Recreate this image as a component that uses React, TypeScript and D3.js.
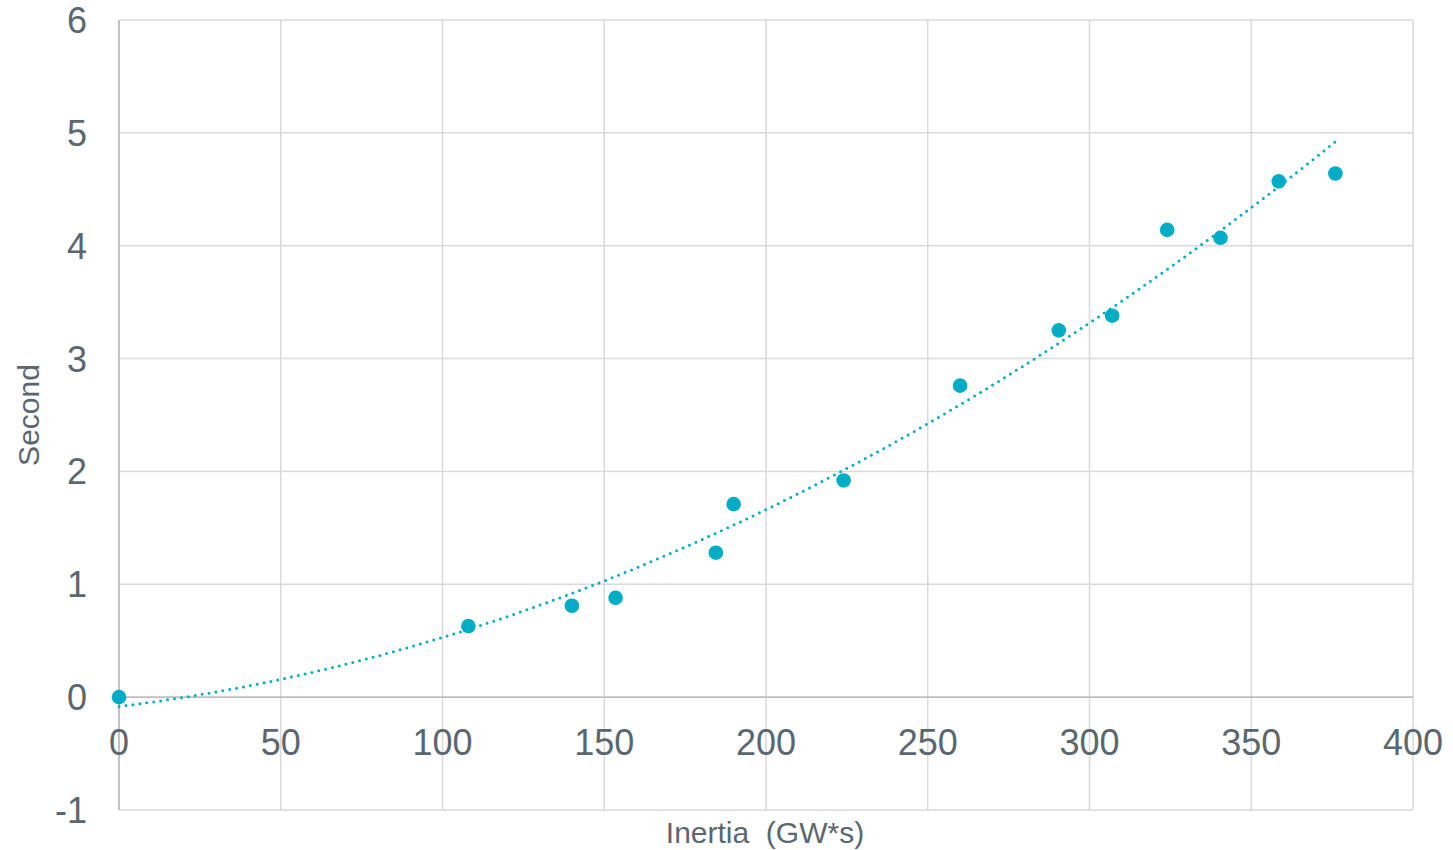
import React from "react";
import * as d3 from "d3";

const inertia = [0, 108, 140, 153.5, 184.5, 190, 224, 260, 290.5, 307, 324, 340.5, 358.5, 376];
const seconds = [0, 0.63, 0.81, 0.88, 1.28, 1.71, 1.92, 2.76, 3.25, 3.38, 4.14, 4.07, 4.57, 4.64];
const xTicks = [0, 50, 100, 150, 200, 250, 300, 350, 400];
const yTicks = [-1, 0, 1, 2, 3, 4, 5, 6];
const xTitle = "Inertia\u00a0\u00a0(GW*s)";
const yTitle = "Second";

function quadFit(xs: number[], ys: number[]) {
  const n = xs.length;
  let s = [0, 0, 0, 0, 0];
  let t = [0, 0, 0];
  for (let i = 0; i < n; i++) {
    const x = xs[i], y = ys[i];
    for (let k = 0; k < 5; k++) s[k] += Math.pow(x, k);
    for (let k = 0; k < 3; k++) t[k] += y * Math.pow(x, k);
  }
  const M = [
    [s[0], s[1], s[2], t[0]],
    [s[1], s[2], s[3], t[1]],
    [s[2], s[3], s[4], t[2]],
  ];
  for (let i = 0; i < 3; i++) {
    let p = i;
    for (let r = i + 1; r < 3; r++) if (Math.abs(M[r][i]) > Math.abs(M[p][i])) p = r;
    [M[i], M[p]] = [M[p], M[i]];
    for (let r = 0; r < 3; r++) {
      if (r === i) continue;
      const f = M[r][i] / M[i][i];
      for (let c = i; c < 4; c++) M[r][c] -= f * M[i][c];
    }
  }
  return [M[0][3] / M[0][0], M[1][3] / M[1][1], M[2][3] / M[2][2]];
}

export default function App() {
  const W = 1453, H = 850;
  const left = 119, right = 1413, top = 20, bottom = 810;
  const x = d3.scaleLinear().domain([0, 400]).range([left, right]);
  const y = d3.scaleLinear().domain([-1, 6]).range([bottom, top]);
  const color = "#00acc6";
  const textColor = "#5b6770";

  const [a, b, c] = quadFit(inertia, seconds);
  const xMax = d3.max(inertia) as number;
  const trendPts = d3.range(0, 201).map((i) => {
    const xv = (xMax * i) / 200;
    return [xv, a + b * xv + c * xv * xv] as [number, number];
  });
  const line = d3.line<[number, number]>().x((d) => x(d[0])).y((d) => y(d[1]));

  return (
    <svg width={W} height={H} style={{ position: "absolute", left: 0, top: 0, fontFamily: "Arial, 'Liberation Sans', sans-serif" }}>
      <rect width={W} height={H} fill="#fff" />
      {xTicks.map((t) => (
        <line key={"gx" + t} x1={x(t)} x2={x(t)} y1={top} y2={bottom} stroke={t === 0 ? "#bfbfbf" : "#d9d9d9"} strokeWidth={1.5} />
      ))}
      {yTicks.map((t) => (
        <line key={"gy" + t} x1={left} x2={right} y1={y(t)} y2={y(t)} stroke={t === 0 ? "#bfbfbf" : "#d9d9d9"} strokeWidth={1.5} />
      ))}
      <line x1={left} x2={left} y1={top} y2={bottom} stroke="#bfbfbf" strokeWidth={1.5} />
      <line x1={left} x2={right} y1={y(0)} y2={y(0)} stroke="#bfbfbf" strokeWidth={1.5} />
      {xTicks.map((t) => (
        <text key={"tx" + t} x={x(t)} y={755} textAnchor="middle" fontSize={36} fill={textColor}>{t}</text>
      ))}
      {yTicks.map((t) => (
        <text key={"ty" + t} x={87} y={y(t) + 13} textAnchor="end" fontSize={36} fill={textColor}>{t}</text>
      ))}
      <path d={line(trendPts) || ""} fill="none" stroke={color} strokeWidth={3} strokeDasharray="0 7" strokeLinecap="round" />
      {inertia.map((v, i) => (
        <circle key={"p" + i} cx={x(v)} cy={y(seconds[i])} r={7.3} fill={color} />
      ))}
      <text x={765} y={843} textAnchor="middle" fontSize={30} fill={textColor}>{xTitle}</text>
      <text transform={`translate(39,${415}) rotate(-90)`} textAnchor="middle" fontSize={30} fill={textColor}>{yTitle}</text>
    </svg>
  );
}
